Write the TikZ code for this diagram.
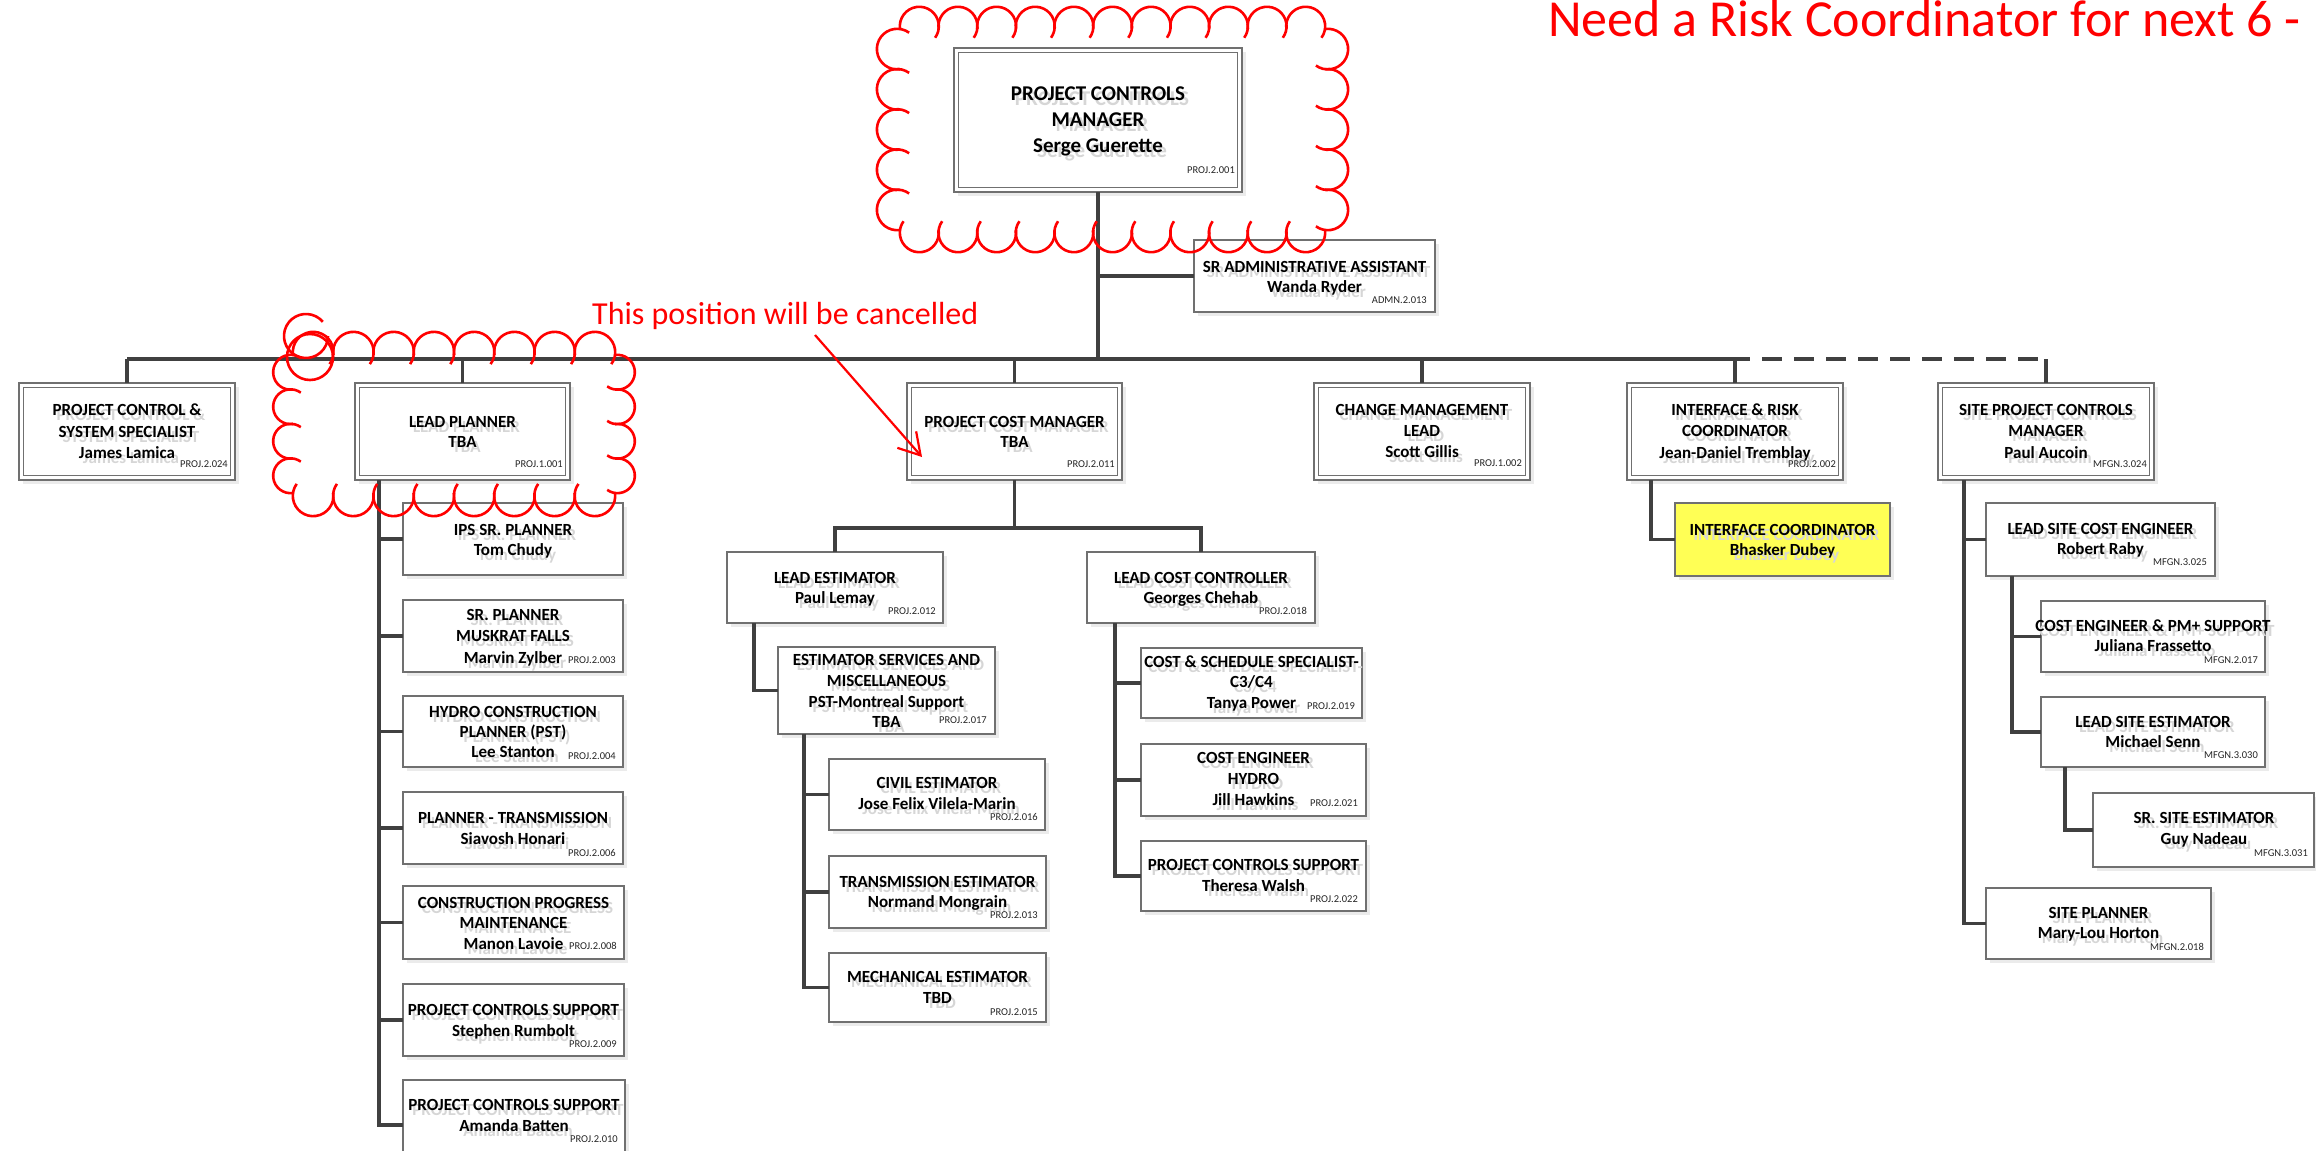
\documentclass[tikz,border=0pt]{standalone}
\usepackage{fontspec}
\setmainfont{Carlito}
\usetikzlibrary{arrows.meta,calc}

\definecolor{linkgray}{RGB}{64,64,64}
\definecolor{framegray}{RGB}{112,112,112}
\definecolor{hiyellow}{RGB}{255,255,85}
\definecolor{markred}{RGB}{255,0,0}

\tikzset{
  connector/.style={draw=linkgray, line width=3.2pt},
  boxframe/.style={draw=framegray, line width=1.6pt, fill=white, inner sep=0pt, outer sep=0pt},
  boxtext/.style={font=\fontsize{17}{20}\selectfont\bfseries, inner sep=0pt, anchor=base},
  bigtext/.style={font=\fontsize{21}{25}\selectfont\bfseries, inner sep=0pt, anchor=base},
  idtext/.style={font=\fontsize{10.5}{12}\selectfont, inner sep=0pt, anchor=base east, text=black!85},
  revision/.style={draw=markred, line width=2.6pt},
  redtext/.style={text=markred, inner sep=0pt, anchor=base west},
}

% box with a faint drop shadow: name, x1, y1, x2, y2, extra style
\newcommand\orgbox[6]{%
  \fill[black!8] (#2+4,#3+4) rectangle (#4+4,#5+4);
  \node[boxframe, #6, minimum width={(#4-#2)*1pt}, minimum height={(#5-#3)*1pt}]
    (#1) at ({(#2+#4)/2},{(#3+#5)/2}) {};
}
% same box with the inner second frame
\newcommand\orgboxd[5]{%
  \orgbox{#1}{#2}{#3}{#4}{#5}{}
  \draw[draw=framegray, line width=1.6pt]
    ([shift={(4.5pt,4.5pt)}]#1.south west) rectangle ([shift={(-4.5pt,-4.5pt)}]#1.north east);
}
% one line of text with its light offset copy: [style] name, x, baseline, text
\newcommand\tline[5][boxtext]{%
  \node[#1, text=black!16] (#2g) at (#3+4,#4+5) {#5};
  \node[#1] (#2) at (#3,#4) {#5};
}
% revision cloud: x1, y1, x2, y2 of the chord frame, arcs across, arcs down
\def\rcd{8}
\def\rck{28}
\newcommand\revcloud[6]{%
  \pgfmathsetmacro\rcw{(#3-#1)/#5}%
  \pgfmathsetmacro\rch{(#4-#2)/#6}%
  \pgfmathsetmacro\rrh{\rcw/(2*cos(\rcd))}%
  \pgfmathsetmacro\rrv{\rch/(2*cos(\rcd))}%
  \foreach \i in {1,...,#5}{%
    \draw[revision] ({#1+(\i-1)*\rcw},#2) arc[start angle=180-\rcd, end angle=360+\rcd+\rck, radius=\rrh];
    \draw[revision] ({#3-(\i-1)*\rcw},#4) arc[start angle=-\rcd, end angle=180+\rcd+\rck, radius=\rrh];
  }%
  \foreach \i in {1,...,#6}{%
    \draw[revision] (#3,{#2+(\i-1)*\rch}) arc[start angle=-90-\rcd, end angle=90+\rcd+\rck, radius=\rrv];
    \draw[revision] (#1,{#4-(\i-1)*\rch}) arc[start angle=90-\rcd, end angle=270+\rcd+\rck, radius=\rrv];
  }%
}

\begin{document}
\begin{tikzpicture}[x=1pt,y=-1pt]
\path[use as bounding box, clip] (0,0) rectangle (2316,1151);
\fill[white] (0,0) rectangle (2316,1151);

% ---------------- boxes ----------------
\orgboxd{top}{954}{48}{1242}{192}
\orgbox{adm}{1194}{240}{1435}{312}{}

\orgboxd{pcss}{19}{383}{235}{480}
\orgboxd{lp}{355}{383}{570}{480}
\orgboxd{pcm}{907}{383}{1122}{480}
\orgboxd{cml}{1314}{383}{1530}{480}
\orgboxd{irc}{1627}{383}{1843}{480}
\orgboxd{spcm}{1938}{383}{2154}{480}

\orgbox{ifc}{1675}{503}{1890}{576}{fill=hiyellow}

\orgbox{ips}{403}{503}{623}{575}{}
\orgbox{srp}{403}{600}{623}{672}{}
\orgbox{hcp}{403}{696}{623}{767}{}
\orgbox{ptr}{403}{792}{623}{864}{}
\orgbox{cpm}{403}{886}{624}{959}{}
\orgbox{pcsa}{403}{984}{624}{1056}{}
\orgbox{pcsb}{403}{1080}{625}{1170}{}

\orgbox{lest}{727}{552}{943}{623}{}
\orgbox{lcc}{1087}{552}{1315}{623}{}
\orgbox{esm}{778}{647}{995}{734}{}
\orgbox{civ}{829}{759}{1045}{830}{}
\orgbox{tre}{829}{856}{1046}{928}{}
\orgbox{mce}{829}{953}{1046}{1022}{}
\orgbox{css}{1141}{648}{1362}{718}{}
\orgbox{ceh}{1141}{744}{1366}{816}{}
\orgbox{pcsc}{1141}{841}{1366}{911}{}

\orgbox{lsce}{1986}{503}{2215}{576}{}
\orgbox{cepm}{2041}{601}{2265}{672}{}
\orgbox{lse}{2041}{697}{2265}{767}{}
\orgbox{sse}{2093}{793}{2314}{867}{}
\orgbox{spl}{1986}{888}{2211}{959}{}

% ---------------- connectors ----------------
\coordinate (bus) at (1098,359);
\coordinate (dashstart) at (1750,359);
\draw[connector] (top.south) -- (bus);
\draw[connector] (top.south |- adm.west) -- (adm.west);
\draw[connector] (pcss.north |- bus) -- (dashstart);
\draw[connector, dash pattern=on 20pt off 12pt, dash phase=20pt] (dashstart) -- (spcm.north |- bus);
\foreach \n in {pcss,lp,pcm,cml,irc,spcm}{\draw[connector] (\n.north) -- (\n.north |- bus);}

\coordinate (costbus) at ($(pcm.south)+(0,48)$);
\draw[connector] (pcm.south) -- (costbus);
\draw[connector] (lest.north) |- (costbus) -| (lcc.north);

\coordinate (lpT) at ($(lp.south west)+(24,0)$);
\foreach \c in {ips,srp,hcp,ptr,cpm,pcsa,pcsb}{\draw[connector] (lpT) |- (\c.west);}
\coordinate (lestT) at ($(lest.south west)+(27,0)$);
\draw[connector] (lestT) |- (esm.west);
\coordinate (esmT) at ($(esm.south west)+(26,0)$);
\foreach \c in {civ,tre,mce}{\draw[connector] (esmT) |- (\c.west);}
\coordinate (lccT) at ($(lcc.south west)+(28,0)$);
\foreach \c in {css,ceh,pcsc}{\draw[connector] (lccT) |- (\c.west);}
\coordinate (ircT) at ($(irc.south west)+(24,0)$);
\draw[connector] (ircT) |- (ifc.west);
\coordinate (spcmT) at ($(spcm.south west)+(26,0)$);
\foreach \c in {lsce,spl}{\draw[connector] (spcmT) |- (\c.west);}
\coordinate (lsceT) at ($(lsce.south west)+(26,0)$);
\foreach \c in {cepm,lse}{\draw[connector] (lsceT) |- (\c.west);}
\coordinate (lseT) at ($(lse.south west)+(24,0)$);
\draw[connector] (lseT) |- (sse.west);

% ---------------- texts ----------------
\tline[bigtext]{topa}{1098}{100}{PROJECT CONTROLS}
\tline[bigtext]{topb}{1098}{126}{MANAGER}
\tline[bigtext]{topc}{1098}{152}{Serge Guerette}
\node[idtext] (topid) at (1235,173) {PROJ.2.001};

\tline{adma}{1314.5}{272}{SR ADMINISTRATIVE ASSISTANT}
\tline{admb}{1314.5}{292}{Wanda Ryder}
\node[idtext] (admid) at (1427,303) {ADMN.2.013};

\tline{pcssa}{127}{415}{PROJECT CONTROL \&}
\tline{pcssb}{127}{437}{SYSTEM SPECIALIST}
\tline{pcssc}{127}{458}{James Lamica}
\node[idtext] (pcssid) at (228,467) {PROJ.2.024};

\tline{lpa}{462.5}{427}{LEAD PLANNER}
\tline{lpb}{462.5}{447}{TBA}
\node[idtext] (lpid) at (563,467) {PROJ.1.001};

\tline{pcma}{1014.5}{427}{PROJECT COST MANAGER}
\tline{pcmb}{1014.5}{447}{TBA}
\node[idtext] (pcmid) at (1115,467) {PROJ.2.011};

\tline{cmla}{1422}{415}{CHANGE MANAGEMENT}
\tline{cmlb}{1422}{436}{LEAD}
\tline{cmlc}{1422}{457}{Scott Gillis}
\node[idtext] (cmlid) at (1522,466) {PROJ.1.002};

\tline{irca}{1735}{415}{INTERFACE \& RISK}
\tline{ircb}{1735}{436}{COORDINATOR}
\tline{ircc}{1735}{458}{Jean-Daniel Tremblay}
\node[idtext] (ircid) at (1836,467) {PROJ.2.002};

\tline{spcma}{2046}{415}{SITE PROJECT CONTROLS}
\tline{spcmb}{2046}{436}{MANAGER}
\tline{spcmc}{2046}{458}{Paul Aucoin}
\node[idtext] (spcmid) at (2147,467) {MFGN.3.024};

\tline{ifca}{1782.5}{535}{INTERFACE COORDINATOR}
\tline{ifcb}{1782.5}{555}{Bhasker Dubey}

\tline{ipsa}{513}{535}{IPS SR. PLANNER}
\tline{ipsb}{513}{555}{Tom Chudy}

\tline{srpa}{513}{620}{SR. PLANNER}
\tline{srpb}{513}{641}{MUSKRAT FALLS}
\tline{srpc}{513}{663}{Marvin Zylber}
\node[idtext] (srpid) at (616,663) {PROJ.2.003};

\tline{hcpa}{513}{717}{HYDRO CONSTRUCTION}
\tline{hcpb}{513}{737}{PLANNER (PST)}
\tline{hcpc}{513}{757}{Lee Stanton}
\node[idtext] (hcpid) at (616,759) {PROJ.2.004};

\tline{ptra}{513}{823}{PLANNER - TRANSMISSION}
\tline{ptrb}{513}{844}{Siavosh Honari}
\node[idtext] (ptrid) at (616,856) {PROJ.2.006};

\tline{cpma}{513.5}{908}{CONSTRUCTION PROGRESS}
\tline{cpmb}{513.5}{928}{MAINTENANCE}
\tline{cpmc}{513.5}{949}{Manon Lavoie}
\node[idtext] (cpmid) at (617,949) {PROJ.2.008};

\tline{pcsaa}{513.5}{1015}{PROJECT CONTROLS SUPPORT}
\tline{pcsab}{513.5}{1036}{Stephen Rumbolt}
\node[idtext] (pcsaid) at (617,1047) {PROJ.2.009};

\tline{pcsba}{514}{1110}{PROJECT CONTROLS SUPPORT}
\tline{pcsbb}{514}{1131}{Amanda Batten}
\node[idtext] (pcsbid) at (618,1142) {PROJ.2.010};

\tline{lesta}{835}{583}{LEAD ESTIMATOR}
\tline{lestb}{835}{603}{Paul Lemay}
\node[idtext] (lestid) at (936,614) {PROJ.2.012};

\tline{lcca}{1201}{583}{LEAD COST CONTROLLER}
\tline{lccb}{1201}{603}{Georges Chehab}
\node[idtext] (lccid) at (1307,614) {PROJ.2.018};

\tline{esma}{886.5}{665}{ESTIMATOR SERVICES AND}
\tline{esmb}{886.5}{686}{MISCELLANEOUS}
\tline{esmc}{886.5}{707}{PST-Montreal Support}
\tline{esmd}{886.5}{727}{TBA}
\node[idtext] (esmid) at (987,723) {PROJ.2.017};

\tline{civa}{937}{788}{CIVIL ESTIMATOR}
\tline{civb}{937}{809}{Jose Felix Vilela-Marin}
\node[idtext] (civid) at (1038,820) {PROJ.2.016};

\tline{trea}{937.5}{887}{TRANSMISSION ESTIMATOR}
\tline{treb}{937.5}{907}{Normand Mongrain}
\node[idtext] (treid) at (1038,918) {PROJ.2.013};

\tline{mcea}{937.5}{982}{MECHANICAL ESTIMATOR}
\tline{mceb}{937.5}{1003}{TBD}
\node[idtext] (mceid) at (1038,1015) {PROJ.2.015};

\tline{cssa}{1251.5}{667}{COST \& SCHEDULE SPECIALIST-}
\tline{cssb}{1251.5}{687}{C3/C4}
\tline{cssc}{1251.5}{708}{Tanya Power}
\node[idtext] (cssid) at (1355,709) {PROJ.2.019};

\tline{ceha}{1253.5}{763}{COST ENGINEER}
\tline{cehb}{1253.5}{784}{HYDRO}
\tline{cehc}{1253.5}{805}{Jill Hawkins}
\node[idtext] (cehid) at (1358,806) {PROJ.2.021};

\tline{pcsca}{1253.5}{870}{PROJECT CONTROLS SUPPORT}
\tline{pcscb}{1253.5}{891}{Theresa Walsh}
\node[idtext] (pcscid) at (1358,902) {PROJ.2.022};

\tline{lscea}{2100.5}{534}{LEAD SITE COST ENGINEER}
\tline{lsceb}{2100.5}{554}{Robert Raby}
\node[idtext] (lsceid) at (2207,565) {MFGN.3.025};

\tline{cepma}{2153}{631}{COST ENGINEER \& PM+ SUPPORT}
\tline{cepmb}{2153}{651}{Juliana Frassetto}
\node[idtext] (cepmid) at (2258,663) {MFGN.2.017};

\tline{lsea}{2153}{727}{LEAD SITE ESTIMATOR}
\tline{lseb}{2153}{747}{Michael Senn}
\node[idtext] (lseid) at (2258,758) {MFGN.3.030};

\tline{ssea}{2204}{823}{SR. SITE ESTIMATOR}
\tline{sseb}{2204}{844}{Guy Nadeau}
\node[idtext] (sseid) at (2308,856) {MFGN.3.031};

\tline{spla}{2098.5}{918}{SITE PLANNER}
\tline{splb}{2098.5}{938}{Mary-Lou Horton}
\node[idtext] (splid) at (2204,950) {MFGN.2.018};

% ---------------- red mark-ups ----------------
\revcloud{900}{29}{1325}{230}{11}{5}
\revcloud{293}{355}{615}{493}{8}{4}
\draw[revision] (310,357) circle[radius=23];
\draw[revision] ($(306,336)+(-40:22)$) arc[start angle=-40, end angle=-360, radius=22];

\node[redtext, font=\fontsize{52}{60}\selectfont] (riskneed) at (1548,36) {Need a Risk Coordinator for next 6 -};
\node[redtext, font=\fontsize{32}{38}\selectfont] (cancelnote) at (592,324) {This position will be cancelled};
\coordinate (arrS) at (815,335);
\coordinate (arrE) at (922,457);
\draw[draw=markred, line width=2.2pt, -{Straight Barb[length=21pt,width=25pt]}] (arrS) -- (arrE);
\end{tikzpicture}
\end{document}
